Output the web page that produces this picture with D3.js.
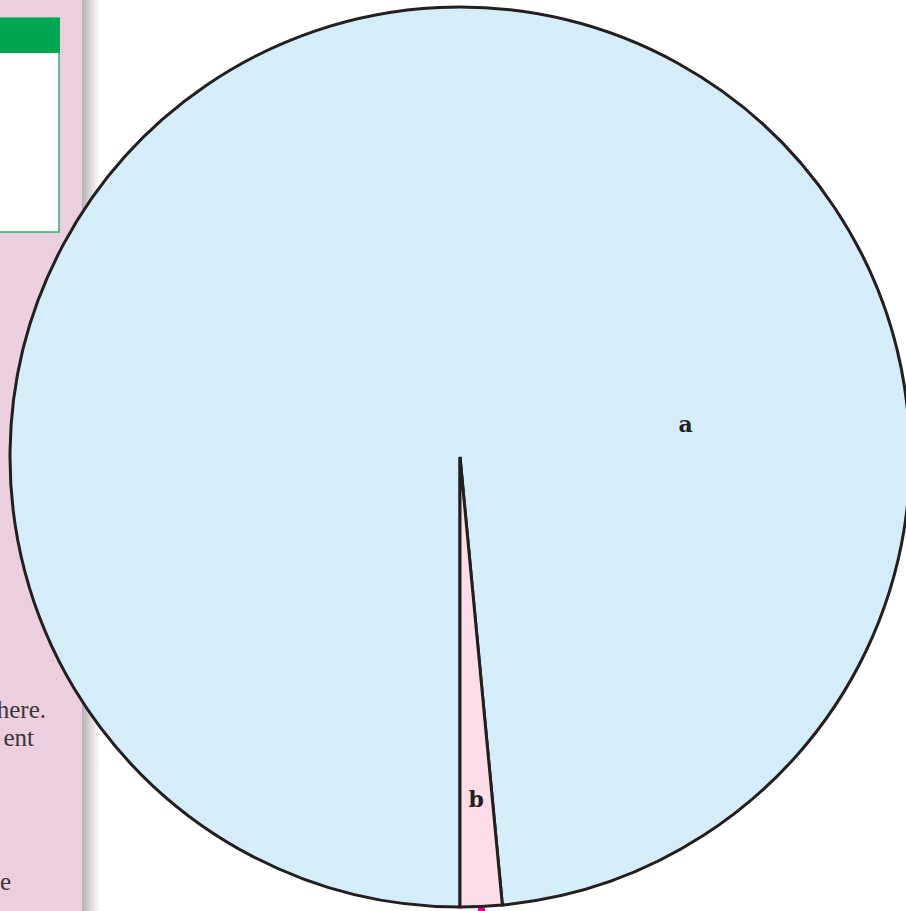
<!DOCTYPE html>
<html>
<head>
<meta charset="utf-8">
<script src="https://cdn.jsdelivr.net/npm/d3@7"></script>
<style>
html,body{margin:0;padding:0;background:#fff;overflow:hidden}
svg{display:block}
</style>
</head>
<body>
<svg id="chart" width="906" height="911"></svg>
<script>
const categories = ["a", "b"];
const values = [98.5, 1.5];
const colors = ["#d5ecf9", "#fddde9"];
const sideText = ["here.", "ent", "e"];

const W = 906, H = 911;
const svg = d3.select("#chart");

// background page elements
const defs = svg.append("defs");
const grad = defs.append("linearGradient").attr("id", "shadow").attr("x1", "0").attr("x2", "1");
grad.append("stop").attr("offset", "0").attr("stop-color", "#b4b4b6");
grad.append("stop").attr("offset", "1").attr("stop-color", "#ffffff");
svg.append("rect").attr("x", 0).attr("y", 0).attr("width", 82).attr("height", H).attr("fill", "#eccfdf");
svg.append("rect").attr("x", 82).attr("y", 0).attr("width", 18).attr("height", H).attr("fill", "url(#shadow)");
svg.append("rect").attr("x", -2).attr("y", 18).attr("width", 61).attr("height", 214).attr("fill", "#ffffff").attr("stroke", "#2bb36a").attr("stroke-width", 1.5);
svg.append("rect").attr("x", -2).attr("y", 18).attr("width", 62).attr("height", 35).attr("fill", "#00a651");
const sideX = [46, 34, 11];
const sideY = [718, 746, 890];
svg.selectAll("text.side").data(sideText).join("text")
  .attr("class", "side")
  .attr("x", (d, i) => sideX[i]).attr("y", (d, i) => sideY[i])
  .attr("text-anchor", "end")
  .attr("font-family", "Liberation Serif, DejaVu Serif, serif")
  .attr("font-size", 25)
  .attr("fill", "#3a3536")
  .text(d => d);

// pie
const cx = 460, cy = 457, R = 450;
const g = svg.append("g").attr("transform", `translate(${cx},${cy})`);
const pie = d3.pie().sort(null).startAngle(Math.PI).endAngle(3 * Math.PI);
const arcs = pie(values);
const arc = d3.arc().innerRadius(0).outerRadius(R);

g.selectAll("path").data(arcs).join("path")
  .attr("d", arc)
  .attr("fill", (d, i) => colors[i])
  .attr("stroke", "#231f20")
  .attr("stroke-width", 3)
  .attr("stroke-linejoin", "miter");

// small magenta tick below pie
svg.append("rect").attr("x", cx + 18).attr("y", 908).attr("width", 7).attr("height", 3).attr("fill", "#ec008c");

// labels
const labelPos = [
  d3.arc().innerRadius(228).outerRadius(228).startAngle(1.427).endAngle(1.427),
  d3.arc().innerRadius(343).outerRadius(343)
];
g.selectAll("text.lbl").data(arcs).join("text")
  .attr("class", "lbl")
  .attr("transform", (d, i) => {
    const c = i === 0 ? labelPos[0].centroid() : labelPos[1].centroid(d);
    return `translate(${c[0]},${c[1]})`;
  })
  .attr("text-anchor", "middle")
  .attr("dy", "0.35em")
  .attr("font-family", "DejaVu Serif, Liberation Serif, serif")
  .attr("font-weight", "bold")
  .attr("font-size", 22)
  .attr("fill", "#231f20")
  .text((d, i) => categories[i]);
</script>
</body>
</html>
